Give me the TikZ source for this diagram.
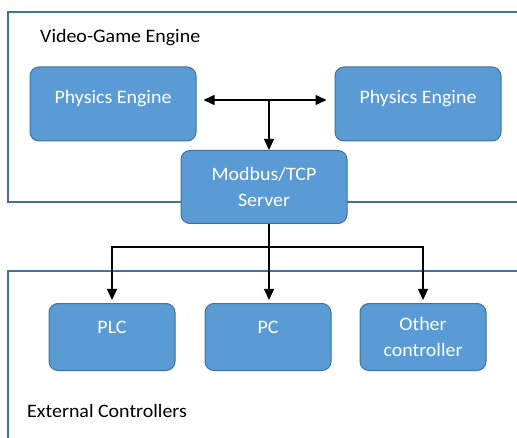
\documentclass[tikz,border=0pt]{standalone}
\usepackage{fontspec}
\setmainfont{Carlito}[FakeStretch=1.05]
\usepackage{tikz}
\usetikzlibrary{arrows.meta,positioning}
\definecolor{BoxBlue}{RGB}{91,155,213}
\definecolor{EdgeBlue}{RGB}{65,113,156}
\newcommand{\boxfont}{\fontsize{19}{26.5}\selectfont}

\begin{document}
\begin{tikzpicture}[
    x=1pt, y=1pt,
    box/.style={
      draw=EdgeBlue,
      fill=BoxBlue,
      rounded corners=9pt,
      line width=1pt,
      text=white,
      align=center,
      font=\boxfont,
      inner sep=0pt,
      minimum width=166pt,
      minimum height=74pt
    },
    ctrl/.style={box, minimum width=126pt, minimum height=67pt},
    frame/.style={draw=EdgeBlue, line width=1.3pt},
    title/.style={anchor=base west, font=\boxfont, inner sep=0pt},
    arrow/.style={-{Triangle[length=11pt,width=10pt]}, line width=1.1pt}
  ]
    \useasboundingbox (0,0) rectangle (517,437);

    % the two containers
    \draw[frame] (517,425) -- (8,425) -- (8,235) -- (517,235);
    \draw[frame] (517,166) -- (8,166) -- (8,-2);

    \node[title] (engine) at (40,394) {Video-Game Engine};
    \node[title] (external) at (27,20) {External Controllers};

    \node[box, text height=12.5pt, text depth=13pt] (physA) at (113,333)
      {Physics Engine};
    \node[box, text height=12.5pt, text depth=13pt] (physB) at (418,333)
      {Physics Engine};
    \node[box, minimum height=73pt] (server) at (264,250)
      {Modbus/TCP\\Server};

    \node[ctrl, text height=12.5pt, text depth=18.5pt] (plc) at (112,100) {PLC};
    \node[ctrl, text height=12.5pt, text depth=18.5pt] (pc) at (268,100) {PC};
    \node[ctrl] (other) at (423,100) {Other\\controller};

    \coordinate (hub) at (269,337);
    \coordinate (split) at (269,190);

    \draw[arrow, shorten >=7pt] (hub) -- (hub -| physA.east);
    \draw[arrow, shorten >=8pt] (hub) -- (hub -| physB.west);
    \draw[arrow] (hub) -- (hub |- server.north);

    \draw[line width=1.1pt] (server.south -| split) -- (split);
    \draw[arrow, shorten >=3pt] (split) -- (split |- pc.north);
    \draw[arrow, shorten >=3pt] (split) -| (plc.north);
    \draw[arrow, shorten >=3pt] (split) -| (other.north);
  \end{tikzpicture}
\end{document}
